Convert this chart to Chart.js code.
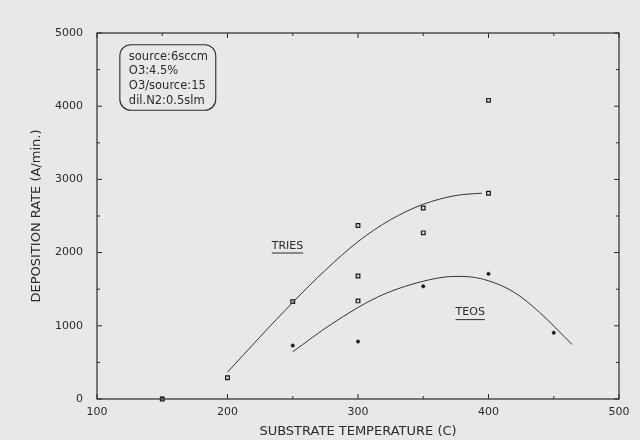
<!DOCTYPE html>
<html>
<head>
<meta charset="utf-8">
<script src="https://cdn.jsdelivr.net/npm/chart.js@4"></script>
<style>
  html, body { margin: 0; padding: 0; background: #e7e8ea; }
  #wrap { width: 640px; height: 440px; }
</style>
</head>
<body>
<div id="wrap"><canvas id="depChart" width="640" height="440"></canvas></div>
<script>
// measured points (substrate temperature, deposition rate)
const triesTemp = [150, 200, 250, 300, 300, 300, 350, 350, 400, 400];
const triesRate = [0, 290, 1330, 2370, 1680, 1340, 2610, 2270, 4080, 2810];
const teosTemp = [250, 300, 350, 400, 450];
const teosRate = [730, 785, 1540, 1710, 905];

// hand drawn fit curves
const triesFitTemp = [200, 225, 250, 275, 300, 325, 350, 375, 395];
const triesFitRate = [366, 850, 1320, 1760, 2150, 2450, 2660, 2780, 2812];
const teosFitTemp = [250, 280, 316, 355, 375, 394, 419, 439, 464];
const teosFitRate = [645, 1027, 1401, 1630, 1675, 1645, 1465, 1185, 745];

const xTicks = [100, 200, 300, 400, 500];
const yTicks = [0, 1000, 2000, 3000, 4000, 5000];
const boxLines = ['source:6sccm', 'O3:4.5%', 'O3/source:15', 'dil.N2:0.5slm'];

const ink = '#2b2b2b';
const fontFam = "'DejaVu Sans', 'Noto Sans', sans-serif";

function pairs(xs, ys) {
    return xs.map((x, i) => ({ x: x, y: ys[i] }));
}

// frame, inner ticks, condition box and curve labels
const decorPlugin = {
    id: 'decor',
    afterDatasetsDraw(chart) {
        const ctx = chart.ctx;
        const a = chart.chartArea;
        const xs = chart.scales.x;
        const ys = chart.scales.y;
        ctx.save();
        ctx.strokeStyle = ink;
        ctx.lineWidth = 1.2;
        ctx.strokeRect(a.left, a.top, a.right - a.left, a.bottom - a.top);

        ctx.lineWidth = 1;
        ctx.beginPath();
        for (let v = 100; v <= 500; v += 50) {
            const px = xs.getPixelForValue(v);
            const len = v % 100 === 0 ? 5 : 3;
            ctx.moveTo(px, a.bottom); ctx.lineTo(px, a.bottom - len);
            ctx.moveTo(px, a.top); ctx.lineTo(px, a.top + len);
        }
        for (let v = 0; v <= 5000; v += 500) {
            const py = ys.getPixelForValue(v);
            const len = v % 1000 === 0 ? 5 : 3;
            ctx.moveTo(a.left, py); ctx.lineTo(a.left + len, py);
            ctx.moveTo(a.right, py); ctx.lineTo(a.right - len, py);
        }
        ctx.stroke();

        // conditions box
        const bx = xs.getPixelForValue(117.5);
        const bx2 = xs.getPixelForValue(191);
        const by = ys.getPixelForValue(4840);
        const by2 = ys.getPixelForValue(3945);
        ctx.beginPath();
        ctx.roundRect(bx, by, bx2 - bx, by2 - by, 11);
        ctx.lineWidth = 1.1;
        ctx.stroke();

        ctx.fillStyle = ink;
        ctx.font = '11.5px ' + fontFam;
        ctx.textAlign = 'left';
        ctx.textBaseline = 'middle';
        boxLines.forEach((t, i) => {
            ctx.fillText(t, bx + 9, by + 12 + i * 14.7);
        });

        // curve labels, underlined
        const labels = [
            { text: 'TRIES', x: 246, y: 2090 },
            { text: 'TEOS', x: 386, y: 1180 }
        ];
        ctx.font = '11px ' + fontFam;
        ctx.textAlign = 'center';
        labels.forEach(l => {
            const px = xs.getPixelForValue(l.x);
            const py = ys.getPixelForValue(l.y);
            ctx.fillText(l.text, px, py);
            const w = ctx.measureText(l.text).width;
            ctx.beginPath();
            ctx.moveTo(px - w / 2, py + 7);
            ctx.lineTo(px + w / 2, py + 7);
            ctx.lineWidth = 1;
            ctx.stroke();
        });
        ctx.restore();
    }
};

Chart.defaults.font.family = fontFam;
Chart.defaults.color = ink;

new Chart(document.getElementById('depChart').getContext('2d'), {
    type: 'scatter',
    data: {
        datasets: [
            {
                label: 'TRIES fit',
                data: pairs(triesFitTemp, triesFitRate),
                showLine: true,
                borderColor: '#333',
                borderWidth: 1,
                pointRadius: 0,
                cubicInterpolationMode: 'monotone'
            },
            {
                label: 'TEOS fit',
                data: pairs(teosFitTemp, teosFitRate),
                showLine: true,
                borderColor: '#333',
                borderWidth: 1,
                pointRadius: 0,
                cubicInterpolationMode: 'monotone'
            },
            {
                label: 'TRIES',
                data: pairs(triesTemp, triesRate),
                pointStyle: 'rect',
                pointRadius: 2.6,
                backgroundColor: '#d8d8d8',
                borderColor: '#1a1a1a',
                borderWidth: 1.2,
                clip: false
            },
            {
                label: 'TEOS',
                data: pairs(teosTemp, teosRate),
                pointStyle: 'circle',
                pointRadius: 1.7,
                backgroundColor: '#1a1a1a',
                borderColor: '#1a1a1a',
                borderWidth: 0.5,
                clip: false
            }
        ]
    },
    options: {
        responsive: false,
        animation: false,
        layout: {
            padding: { top: 33, right: 21, left: 0, bottom: 0 }
        },
        scales: {
            x: {
                type: 'linear',
                min: 100,
                max: 500,
                afterFit: function(scale) { scale.height = 41; },
                afterBuildTicks: function(scale) {
                    scale.ticks = xTicks.map(v => ({ value: v }));
                },
                grid: { display: false, drawTicks: false },
                border: { display: false },
                ticks: {
                    padding: 7,
                    font: { size: 11 },
                    color: ink,
                    callback: function(value) { return String(value); }
                },
                title: {
                    display: true,
                    text: 'SUBSTRATE TEMPERATURE (C)',
                    font: { size: 13 },
                    color: ink,
                    padding: { top: 1, bottom: 1 }
                }
            },
            y: {
                min: 0,
                max: 5000,
                afterFit: function(scale) { scale.width = 97; },
                afterBuildTicks: function(scale) {
                    scale.ticks = yTicks.map(v => ({ value: v }));
                },
                grid: { display: false, drawTicks: false },
                border: { display: false },
                ticks: {
                    padding: 14,
                    font: { size: 11 },
                    color: ink,
                    callback: function(value) { return String(value); }
                },
                title: {
                    display: true,
                    text: 'DEPOSITION RATE (A/min.)',
                    font: { size: 13 },
                    color: ink,
                    padding: { top: 29, bottom: 29 }
                }
            }
        },
        plugins: {
            legend: { display: false },
            tooltip: { enabled: false }
        }
    },
    plugins: [decorPlugin]
});
</script>
</body>
</html>
